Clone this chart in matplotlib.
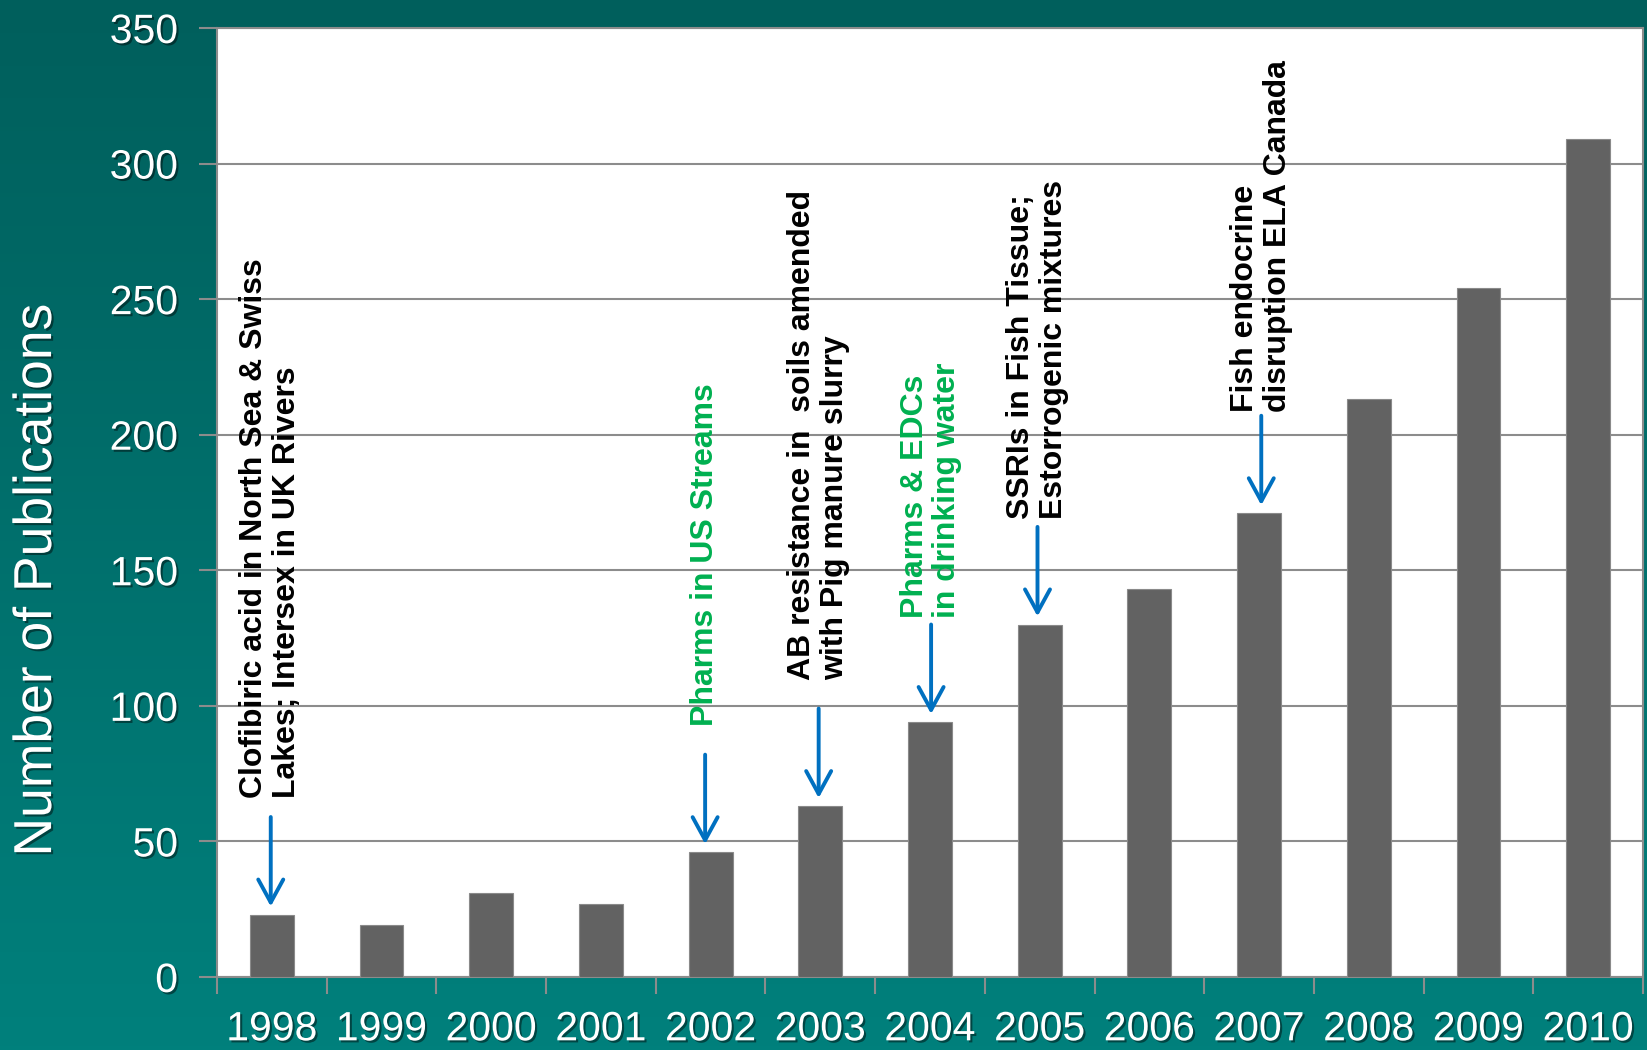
import numpy as np
import matplotlib.pyplot as plt
import matplotlib.patheffects as pe
from matplotlib.colors import LinearSegmentedColormap

plt.rcParams['font.family'] = ['Liberation Sans', 'DejaVu Sans']

# data
years = ['1998', '1999', '2000', '2001', '2002', '2003', '2004',
         '2005', '2006', '2007', '2008', '2009', '2010']
pubs = [23, 19, 31, 27, 46, 63, 94, 130, 143, 171, 213, 254, 309]

# milestone notes
note_years = ['1998', '2002', '2003', '2004', '2005', '2007']
notes = ["Clofibiric acid in North Sea & Swiss\nLakes; Intersex in UK Rivers",
         "Pharms in US Streams",
         "AB resistance in  soils amended\nwith Pig manure slurry",
         "Pharms & EDCs\nin drinking water",
         "SSRIs in Fish Tissue;\nEstorrogenic mixtures",
         "Fish endocrine\ndisruption ELA Canada"]
note_colors = ['black', '#00b050', 'black', '#00b050', 'black', 'black']
note_gap = [7, 10.5, 10.5, 2.5, 3, 1.5]
note_dx = [-0.01, -0.05, -0.015, 0.01, -0.02, 0.02]

fig = plt.figure(figsize=(16.47, 10.5), dpi=100)

# teal gradient background
bg = fig.add_axes([0, 0, 1, 1], zorder=-10)
cmap = LinearSegmentedColormap.from_list('teal', ['#005f5c', '#00807c'])
bg.imshow(np.linspace(0, 1, 256).reshape(-1, 1), aspect='auto', cmap=cmap,
          extent=[0, 1, 0, 1])
bg.axis('off')

ax = fig.add_axes([217/1647, 1-977/1050, 1426/1647, 949/1050])
ax.set_facecolor('white')
x = np.arange(len(years))
ax.bar(x, pubs, width=0.4, color='#626262', edgecolor='#8a8a8a', linewidth=0.8,
       zorder=3)

ax.set_xlim(-0.5, len(years)-0.5)
ax.set_ylim(0, 350)
ax.set_yticks(np.arange(0, 351, 50))
ax.yaxis.grid(True, color='#8c8c8c', linewidth=1.5)
ax.set_axisbelow(True)
for s in ax.spines.values():
    s.set_color('#8c8c8c')
    s.set_linewidth(1.5)

shadow = [pe.withSimplePatchShadow(offset=(1.5, -1.5), shadow_rgbFace='black', alpha=0.45)]
ax.set_xticks(x)
ax.set_xticklabels(years)
ax.set_xticks(np.arange(-0.5, len(years)), minor=True)
ax.tick_params(axis='x', which='major', length=0, pad=24, labelsize=29.5,
               labelcolor='white')
ax.tick_params(axis='x', which='minor', length=12, width=1.5, color='#8c8c8c')
ax.tick_params(axis='y', length=13, width=1.5, color='#8c8c8c', pad=15,
               labelsize=29.5, labelcolor='white')
for lab in ax.get_xticklabels() + ax.get_yticklabels():
    lab.set_path_effects(shadow)

fig.text(0.0225, 0.448, 'Number of Publications', rotation=90, ha='center',
         va='center', fontsize=38.5, color='white', path_effects=shadow)

for yr, txt, c, gap, dx in zip(note_years, notes, note_colors, note_gap, note_dx):
    i = years.index(yr)
    tip = pubs[i] + 3
    top = tip + 33
    ax.annotate('', xy=(i+dx, tip), xytext=(i+dx, top),
                arrowprops=dict(arrowstyle='->,head_length=0.55,head_width=0.3',
                                color='#0070c0', lw=2.8, mutation_scale=30,
                                shrinkA=0, shrinkB=0), zorder=5)
    ax.text(i+dx, top+gap, txt, rotation=90, ha='center', va='bottom',
            multialignment='left', fontsize=23, fontweight='bold', color=c,
            linespacing=1.12, zorder=5)

fig.savefig('out.png', dpi=100)
